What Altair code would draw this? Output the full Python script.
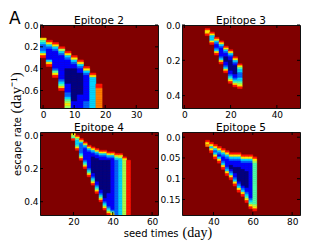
import altair as alt
import pandas as pd

# jet colour levels: 0 = lowest (navy) ... 9 = highest (dark red background)
JET = ["#000080", "#0000ff", "#0063ff", "#00d4ff", "#4dffa9",
       "#a9ff4d", "#ffe600", "#ff7d00", "#ff1400", "#800000"]

# ---- Epitope 2: seed-time columns (2 days wide), first row, levels per row (rows 0.02/day from 0)
E2_X = [0, 2, 4, 6, 8, 10, 12, 14, 16, 18]
E2_ROW0 = [6, 7, 8, 10, 12, 14, 16, 19, 22, 27]
E2_LEV = [
    "643222368",
    "863211111368",
    "8632111111112468",
    "85321" + "1" * 10 + "23468",
    "8632" + "1111" + "0" * 7 + "1111" + "2234" + "5654",
    "8632" + "11" + "0" * 15 + "1111",
    "8632" + "11" + "0" * 10 + "1" * 7,
    "8632" + "1" * 12 + "2222",
    "86" + "3" * 15,
    "88" + "7" * 10,
]

# ---- Epitope 3 (rows 0.01/day from 0)
E3_X = [10, 12, 14, 16, 18, 20, 22, 24]
E3_ROW0 = [2, 4, 7, 9, 12, 14, 18, 22]
E3_LEV = [
    "8668",
    "8633368",
    "8632112368",
    "8632111112368",
    "863211000112368",
    "8632110000001123468",
    "86321000001123468",
    "86433222334568",
]

# ---- Epitope 4 (rows 0.01/day from -0.02)
E4_X = [20, 22, 24, 26, 28, 30, 32, 34, 36, 38, 40, 42, 44, 46, 48]
E4_ROW0 = [1, 2, 4, 6, 8, 9, 10, 11, 11, 12, 12, 13, 13, 15, 17]
E4_LEV = [
    "6548",
    "864333468",
    "8632222223468",
    "8632111111123468",
    "8632" + "1" * 10 + "23468",
    "8632" + "11" + "0" * 10 + "11" + "23468",
    "8632" + "11" + "0" * 14 + "11" + "23468",
    "8632" + "11" + "0" * 18 + "11" + "23468",
    "8632" + "11" + "0" * 23 + "11" + "23468",
    "8632" + "1" + "0" * 20 + "1" * 8 + "23468",
    "8632" + "1" * 31 + "246",
    "8643" + "2" * 33,
    "865" + "3" * 34,
    "86" + "5" * 33,
    "8" * 33,
]

# ---- Epitope 5 (rows 0.005/day from -0.0125)
E5_X = [37, 39, 41, 43, 45, 47, 49, 51, 53, 55, 57, 59, 61]
E5_ROW0 = [4, 5, 6, 7, 8, 9, 10, 10, 10, 11, 11, 11, 12]
E5_LEV = [
    "867",
    "86368",
    "8632368",
    "86321368",
    "8632112368",
    "863211112368",
    "8632110012368",
    "8632111000112368",
    "8632111" + "0" * 7 + "1" + "2368",
    "8632111" + "0" * 8 + "1" + "2368",
    "86321111" + "0" * 8 + "11" + "23468",
    "8632" + "1" * 17 + "23468",
    "865" + "4" * 20 + "568",
]

W, H = 118, 83
COLSCALE = alt.Scale(domain=list(range(10)), range=JET)


def cells(xs, row0s, levs, y0, dy):
    recs = []
    for x, r0, s in zip(xs, row0s, levs):
        for k, ch in enumerate(s):
            r = r0 + k
            recs.append({"x1": x - 1, "x2": x + 1,
                         "y1": y0 + dy * r, "y2": y0 + dy * (r + 1),
                         "v": int(ch)})
    return pd.DataFrame(recs)


def label(text, x, y, size, font, angle=0, align="left"):
    return alt.Chart(pd.DataFrame({"t": [text]})).mark_text(
        align=align, baseline="alphabetic", fontSize=size, font=font,
        color="black", angle=angle,
    ).encode(text="t:N", x=alt.value(x), y=alt.value(y))


def panel(df, title, xdom, ydom, xticks, yticks, ylab_expr, extra=()):
    xs = alt.Scale(domain=xdom, nice=False, zero=False)
    ys = alt.Scale(domain=ydom, nice=False, zero=False, reverse=True)
    ax = dict(tickSize=0, domain=False, grid=False, labelFontSize=9,
              labelPadding=2, labelColor="black", labelFont="DejaVu Sans",
              labelOverlap=False, labelFlush=False, title=None)
    xax = alt.Axis(values=xticks, format="d", **ax)
    yax = alt.Axis(values=yticks, labelExpr=ylab_expr, **ax)
    heat = alt.Chart(df).mark_rect(clip=True, strokeWidth=0.5).encode(
        x=alt.X("x1:Q", scale=xs, axis=xax),
        x2="x2:Q",
        y=alt.Y("y1:Q", scale=ys, axis=yax),
        y2="y2:Q",
        color=alt.Color("v:Q", scale=COLSCALE, legend=None),
        stroke=alt.Color("v:Q", scale=COLSCALE, legend=None),
    )
    xt = pd.DataFrame({"x1": xticks})
    yt = pd.DataFrame({"y1": yticks})
    rule = dict(color="black", strokeWidth=1)
    tb = alt.Chart(xt).mark_rule(**rule).encode(
        x=alt.X("x1:Q", scale=xs, axis=xax), y=alt.value(H), y2=alt.value(H - 3))
    tt = alt.Chart(xt).mark_rule(**rule).encode(
        x=alt.X("x1:Q", scale=xs, axis=xax), y=alt.value(0), y2=alt.value(3))
    tl = alt.Chart(yt).mark_rule(**rule).encode(
        y=alt.Y("y1:Q", scale=ys, axis=yax), x=alt.value(0), x2=alt.value(3))
    tr = alt.Chart(yt).mark_rule(**rule).encode(
        y=alt.Y("y1:Q", scale=ys, axis=yax), x=alt.value(W), x2=alt.value(W - 3))
    ttl = label(title, W / 2, -1.5, 10.5, "DejaVu Sans", align="center")
    return alt.layer(heat, tb, tt, tl, tr, ttl, *extra).properties(width=W, height=H)


F1 = "format(datum.value, '.1f')"
F5 = "datum.value == 0 ? '0.0' : format(datum.value, '.2~f')"

p1 = panel(cells(E2_X, E2_ROW0, E2_LEV, 0.0, 0.02), "Epitope 2",
           [-1, 37], [0, 0.76], [0, 10, 20, 30], [0, 0.2, 0.4, 0.6], F1,
           extra=[label("A", -31, -1.3, 17, "DejaVu Sans"),
                  label("escape rate", -19, 151, 10, "DejaVu Sans", 270),
                  label("(day\u207b\u00b9)", -19, 88.5, 15, "Liberation Serif", 270)])
p2 = panel(cells(E3_X, E3_ROW0, E3_LEV, 0.0, 0.01), "Epitope 3",
           [-1, 50], [0, 0.47], [0, 20, 40], [0, 0.2, 0.4], F1)
p3 = panel(cells(E4_X, E4_ROW0, E4_LEV, -0.02, 0.01), "Epitope 4",
           [3, 63], [-0.02, 0.48], [20, 40, 60], [0, 0.2, 0.4], F1,
           extra=[label("seed times", 83.7, 105, 10, "DejaVu Sans"),
                  label("(day)", 142.5, 105, 14, "Liberation Serif")])
p4 = panel(cells(E5_X, E5_ROW0, E5_LEV, -0.0125, 0.005), "Epitope 5",
           [24, 84], [-0.0125, 0.1875], [40, 60, 80], [0, 0.05, 0.1, 0.15], F5)

chart = alt.concat(p1, p2, p3, p4, columns=2, spacing=24, bounds="flush").properties(
    padding={"left": 0, "top": 1, "right": 2, "bottom": 2}
).configure(font="DejaVu Sans", background="white"
).configure_view(stroke="#111111", strokeWidth=1, fill="#800000")

chart.save("out.html", embed_options={"renderer": "svg", "actions": False})
